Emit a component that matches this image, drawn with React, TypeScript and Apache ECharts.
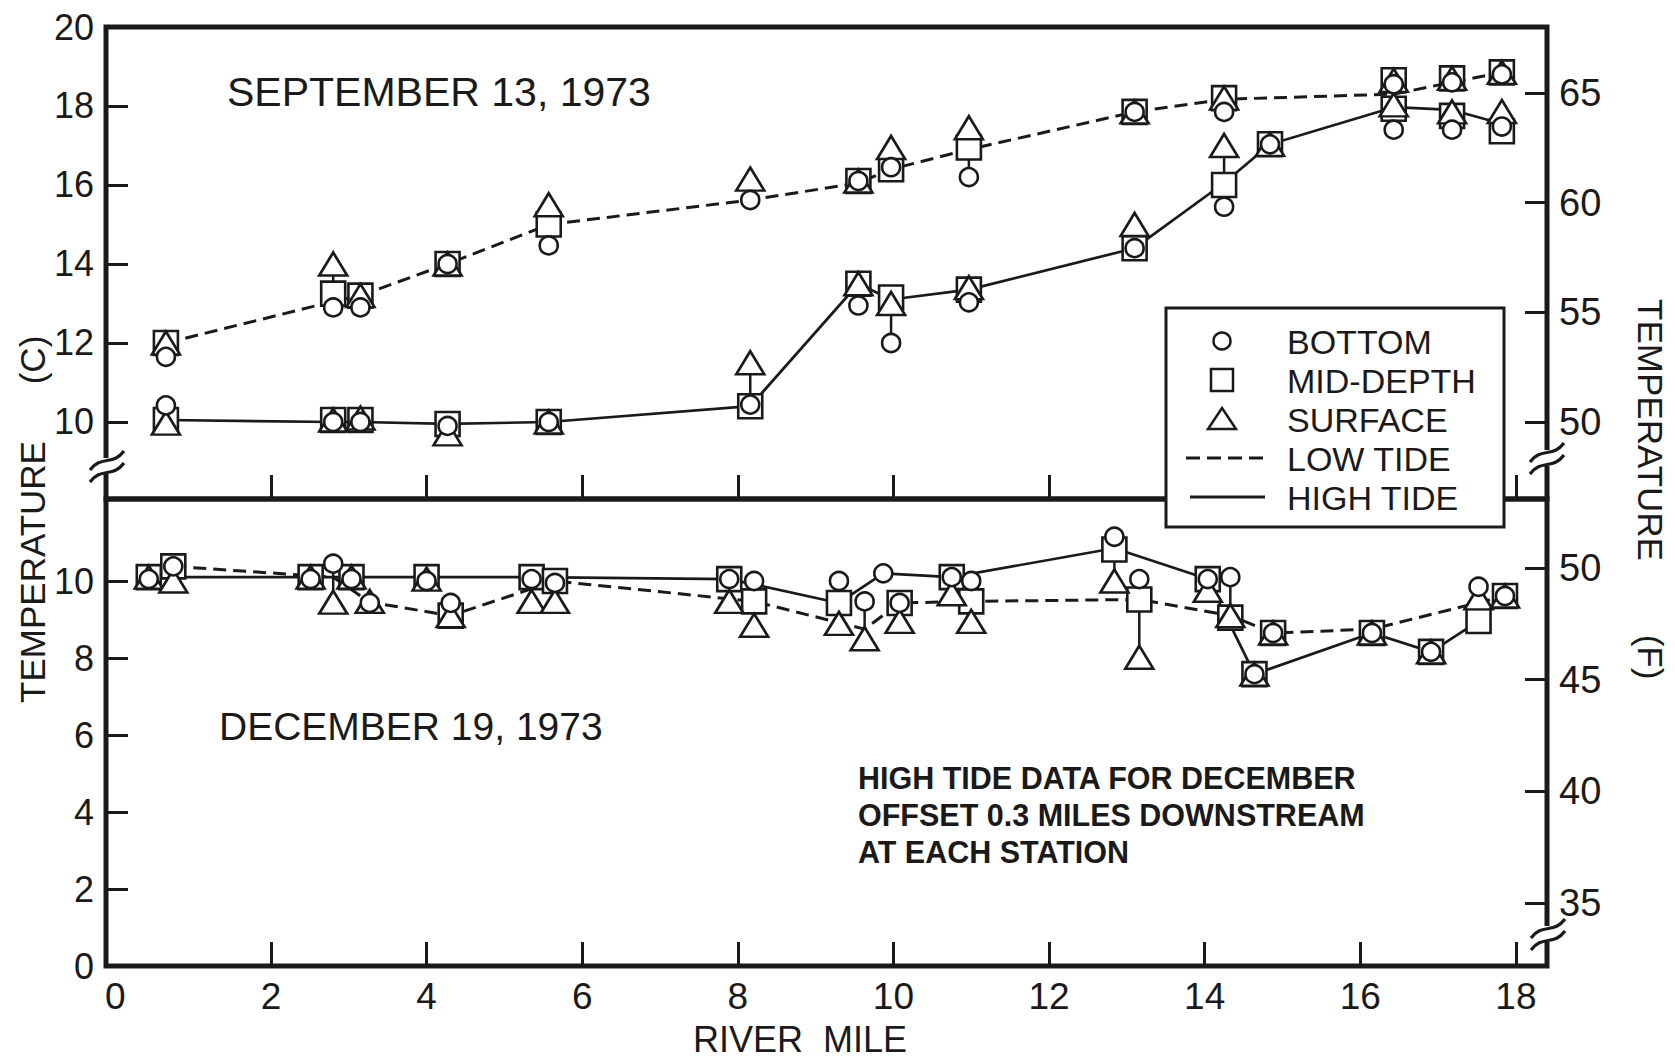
import React, { useEffect, useRef } from "react";
import * as echarts from "echarts";

const INK = "#1a1a1a";
const FONT = "'Liberation Sans', Arial, Helvetica, sans-serif";

// ---------- axis values ----------
const riverMileRange = [-0.12, 18.4];
const xTickValues = [2, 4, 6, 8, 10, 12, 14, 16, 18];
const xLabelValues = [0, 2, 4, 6, 8, 10, 12, 14, 16, 18];

const sepCelsiusRange = [8.05, 20];
const sepCelsiusLabels = [10, 12, 14, 16, 18, 20];
const sepCelsiusTicks = [10, 12, 14, 16, 18];
const sepFahrenheitRange = [46.49, 68];
const sepFahrenheitLabels = [50, 55, 60, 65];

const decCelsiusRange = [0, 12.13];
const decCelsiusLabels = [0, 2, 4, 6, 8, 10];
const decCelsiusTicks = [2, 4, 6, 8, 10];
const decFahrenheitRange = [32.18, 53.09];
const decFahrenheitLabels = [35, 40, 45, 50];

// ---------- September 13, 1973 (low-tide clusters, then high-tide clusters) ----------
const sepStationMile = [
  0.65, 2.8, 3.15, 4.27, 5.57, 8.16, 9.55, 9.97, 10.97, 13.1, 14.25, 16.43, 17.18, 17.82,
  0.65, 2.8, 3.15, 4.27, 5.57, 8.16, 9.55, 9.97, 10.97, 13.1, 14.25, 14.84, 16.43, 17.18, 17.82,
];
const sepBottom = [
  11.65, 12.9, 12.9, 14.0, 14.47, 15.62, 16.1, 16.45, 16.2, 17.85, 17.85, 18.55, 18.6, 18.8,
  10.42, 10.0, 10.0, 9.9, 10.0, 10.44, 12.95, 12.0, 13.03, 14.4, 15.45, 17.03, 17.4, 17.4, 17.48,
];
const sepMid = [
  12.0, 13.25, 13.2, 14.0, 15.0, null, 16.1, 16.4, 16.95, 17.85, 18.2, 18.65, 18.7, 18.85,
  10.05, 10.05, 10.05, 9.95, 10.0, 10.4, 13.5, 13.15, 13.35, 14.4, 16.0, 17.03, 17.93, 17.75, 17.36,
];
const sepSurface = [
  12.0, 14.0, 13.2, 14.0, 15.5, 16.15, 16.1, 16.95, 17.45, 17.85, 18.2, 18.65, 18.7, 18.85,
  9.97, 10.05, 10.1, 9.7, 10.0, 11.5, 13.5, 13.0, 13.4, 15.0, 17.0, 17.03, 18.03, 17.85, 17.86,
];
const sepLowTide = [
  [0.65, 12.0], [2.8, 13.05], [3.15, 13.2], [4.27, 14.0], [5.57, 15.0], [8.16, 15.62],
  [9.55, 16.05], [9.97, 16.4], [10.97, 16.9], [13.1, 17.85], [14.25, 18.17], [16.43, 18.3],
  [17.18, 18.6], [17.82, 18.85],
];
const sepHighTide = [
  [0.65, 10.05], [2.8, 10.0], [3.15, 10.0], [4.27, 9.95], [5.57, 10.0], [8.16, 10.4],
  [9.55, 13.5], [9.97, 13.1], [10.97, 13.35], [13.1, 14.4], [14.25, 16.05], [14.84, 17.03],
  [16.43, 17.97], [17.18, 17.9], [17.82, 17.55],
];

// ---------- December 19, 1973 ----------
const decStationMile = [
  0.43, 0.745, 2.51, 2.8, 3.035, 3.27, 4.0, 4.31, 5.35, 5.65, 7.89, 8.21, 9.3, 9.63,
  9.87, 10.08, 10.75, 11.0, 12.84, 13.16, 14.04, 14.33, 14.64, 14.88, 16.15, 16.91, 17.52, 17.86,
];
const decBottom = [
  10.05, 10.38, 10.05, 10.45, 10.05, 9.43, 10.0, 9.43, 10.05, 9.95, 10.05, 10.0, 10.0, 9.47,
  10.2, 9.43, 10.1, 10.0, 11.15, 10.05, 10.05, 10.1, 7.58, 8.65, 8.65, 8.16, 9.85, 9.61,
];
const decMid = [
  10.1, 10.38, 10.1, null, 10.1, null, 10.1, 9.1, 10.1, 10.0, 10.05, 9.47, 9.43, null,
  null, 9.43, 10.1, 9.47, 10.82, 9.52, 10.05, 9.05, 7.58, 8.65, 8.65, 8.16, 8.96, 9.61,
];
const decSurface = [
  10.1, 10.0, 10.1, 9.45, 10.1, 9.47, 10.05, 9.1, 9.47, 9.47, 9.47, 8.85, 8.9, 8.5,
  null, 8.95, 9.67, 8.95, 10.0, 8.02, 9.76, 9.1, 7.58, 8.65, 8.65, 8.16, 9.56, 9.61,
];
const decLowTide = [
  [0.745, 10.38], [2.8, 10.1], [3.27, 9.45], [4.31, 9.1], [5.65, 10.0], [8.21, 9.47],
  [9.63, 8.75], [10.08, 9.43], [11.0, 9.47], [13.16, 9.52], [14.33, 9.1], [14.88, 8.65],
  [16.15, 8.75], [17.86, 9.61],
];
const decHighTide = [
  [0.43, 10.1], [2.51, 10.1], [3.035, 10.1], [4.0, 10.1], [5.35, 10.1], [7.89, 10.05],
  [9.3, 9.43], [9.87, 10.2], [10.75, 10.1], [12.84, 10.85], [14.04, 10.05], [14.64, 7.58],
  [16.15, 8.65], [16.91, 8.16], [17.52, 8.96],
];

// ---------- texts ----------
const legendLabels = ["BOTTOM", "MID-DEPTH", "SURFACE", "LOW TIDE", "HIGH TIDE"];
const noteLines = [
  "HIGH TIDE DATA FOR DECEMBER",
  "OFFSET 0.3 MILES DOWNSTREAM",
  "AT EACH STATION",
];

const markerStyle = { color: "#ffffff", borderColor: INK, borderWidth: 2.6, opacity: 1 };

function renderStem(_params: any, api: any) {
  const x = api.value(0);
  const a = api.coord([x, api.value(1)]);
  const b = api.coord([x, api.value(2)]);
  return {
    type: "line",
    shape: { x1: a[0], y1: a[1], x2: b[0], y2: b[1] },
    style: { stroke: INK, lineWidth: 2.5 },
  };
}

function buildPanelSeries(
  xi: number,
  yi: number,
  mile: number[],
  bottom: (number | null)[],
  mid: (number | null)[],
  surface: (number | null)[],
  low: number[][],
  high: number[][]
) {
  const pts = (vals: (number | null)[]) =>
    mile.map((x, k) => [x, vals[k]]).filter((d) => d[1] !== null && d[1] !== undefined);
  const stems = mile
    .map((x, k) => {
      const v = [bottom[k], mid[k], surface[k]].filter((u) => u !== null) as number[];
      return [x, Math.min(...v), Math.max(...v)];
    })
    .filter((d) => d[2] - d[1] > 0.01);
  const base = { xAxisIndex: xi, yAxisIndex: yi, silent: true, animation: false };
  return [
    {
      ...base,
      type: "line",
      data: low,
      symbol: "none",
      showSymbol: false,
      lineStyle: { color: INK, width: 3, type: [13, 7], opacity: 1 },
      z: 2,
    },
    {
      ...base,
      type: "line",
      data: high,
      symbol: "none",
      showSymbol: false,
      lineStyle: { color: INK, width: 2.7, type: "solid", opacity: 1 },
      z: 2,
    },
    {
      ...base,
      type: "custom",
      coordinateSystem: "cartesian2d",
      data: stems,
      encode: { x: 0, y: [1, 2] },
      renderItem: renderStem,
      z: 3,
    },
    { ...base, type: "scatter", data: pts(mid), symbol: "rect", symbolSize: 24, itemStyle: markerStyle, z: 4 },
    { ...base, type: "scatter", data: pts(surface), symbol: "triangle", symbolSize: [28, 23], itemStyle: markerStyle, z: 5 },
    { ...base, type: "scatter", data: pts(bottom), symbol: "circle", symbolSize: 18, itemStyle: markerStyle, z: 6 },
  ];
}

function yAxisDef(grid: number, range: number[], labels: number[], ticks: number[], pos: string, size: number) {
  return {
    type: "value",
    gridIndex: grid,
    position: pos,
    min: range[0],
    max: range[1],
    axisLine: { show: false, onZero: false },
    splitLine: { show: false },
    axisTick: {
      show: true,
      inside: true,
      length: 22,
      customValues: ticks,
      lineStyle: { color: INK, width: 3 },
    },
    axisLabel: {
      show: true,
      customValues: labels,
      margin: 12,
      color: INK,
      fontSize: size,
      fontFamily: FONT,
    },
  };
}

function breakMark(ax: number, yc: number) {
  const els: any[] = [
    { type: "rect", shape: { x: ax - 8, y: yc - 9, width: 16, height: 16 }, style: { fill: "#ffffff" }, z: 100 },
  ];
  [-6, 6].forEach((dy) => {
    els.push({
      type: "bezierCurve",
      shape: {
        x1: ax - 17, y1: yc + dy + 9,
        cpx1: ax - 6, cpy1: yc + dy - 6,
        cpx2: ax + 6, cpy2: yc + dy + 5,
        x2: ax + 17, y2: yc + dy - 10,
      },
      style: { stroke: INK, lineWidth: 3.2, fill: "none" },
      z: 101,
    });
  });
  return els;
}

function txt(x: number, y: number, text: string, size: number, extra: any = {}) {
  return {
    type: "text",
    x,
    y,
    rotation: extra.rotation || 0,
    z: 120,
    style: {
      text,
      fill: INK,
      fontSize: size,
      fontFamily: FONT,
      fontWeight: extra.weight || "normal",
      align: extra.align || "left",
      textAlign: extra.align || "left",
      verticalAlign: "middle",
      textVerticalAlign: "middle",
    },
  };
}

export default function App() {
  const ref = useRef<HTMLDivElement>(null);

  useEffect(() => {
    document.body.style.margin = "0";
    document.body.style.background = "#ffffff";
    if (!ref.current) return;
    const chart = echarts.init(ref.current, undefined, { renderer: "svg" });

    const legendX = 1166, legendY = 308, legendW = 338, legendH = 219;
    const rowY = [341, 380, 419, 458, 497];
    const symX = 1222;

    const legend: any[] = [
      {
        type: "rect",
        shape: { x: legendX, y: legendY, width: legendW, height: legendH },
        style: { fill: "#ffffff", stroke: INK, lineWidth: 3 },
        z: 110,
      },
      { type: "circle", shape: { cx: symX, cy: rowY[0], r: 8.5 }, style: { fill: "#fff", stroke: INK, lineWidth: 2.5 }, z: 111 },
      { type: "rect", shape: { x: symX - 11, y: rowY[1] - 11, width: 22, height: 22 }, style: { fill: "#fff", stroke: INK, lineWidth: 2.5 }, z: 111 },
      {
        type: "polygon",
        shape: { points: [[symX, rowY[2] - 11], [symX + 14, rowY[2] + 10], [symX - 14, rowY[2] + 10]] },
        style: { fill: "#fff", stroke: INK, lineWidth: 2.5 },
        z: 111,
      },
      {
        type: "line",
        shape: { x1: 1186, y1: rowY[3], x2: 1267, y2: rowY[3] },
        style: { stroke: INK, lineWidth: 3, lineDash: [14, 7] },
        z: 111,
      },
      {
        type: "line",
        shape: { x1: 1190, y1: rowY[4], x2: 1265, y2: rowY[4] },
        style: { stroke: INK, lineWidth: 3 },
        z: 111,
      },
      ...legendLabels.map((t, i) => txt(1287, rowY[i] + 1, t, 34)),
    ];

    const texts: any[] = [
      txt(227, 92, "SEPTEMBER 13, 1973", 41),
      txt(219, 726, "DECEMBER 19, 1973", 39),
      ...noteLines.map((t, i) => txt(858, 778 + i * 37, t, 30.5, { weight: "bold" })),
      txt(800, 1039, "RIVER\u00a0\u00a0MILE", 36, { align: "center" }),
      txt(32, 572, "TEMPERATURE", 35, { align: "center", rotation: Math.PI / 2 }),
      txt(32, 360, "(C)", 35, { align: "center", rotation: Math.PI / 2 }),
      txt(1650, 430, "TEMPERATURE", 35, { align: "center", rotation: -Math.PI / 2 }),
      txt(1650, 657, "(F)", 35, { align: "center", rotation: -Math.PI / 2 }),
    ];

    const option: any = {
      animation: false,
      backgroundColor: "#ffffff",
      grid: [
        { left: 106, top: 27, width: 1441, height: 472, show: true, borderColor: INK, borderWidth: 5, backgroundColor: "transparent" },
        { left: 106, top: 499, width: 1441, height: 467, show: true, borderColor: INK, borderWidth: 5, backgroundColor: "transparent" },
      ],
      xAxis: [
        {
          type: "value",
          gridIndex: 0,
          position: "bottom",
          min: riverMileRange[0],
          max: riverMileRange[1],
          axisLine: { show: false, onZero: false },
          splitLine: { show: false },
          axisTick: { show: true, inside: true, length: 24, customValues: xTickValues, lineStyle: { color: INK, width: 3 } },
          axisLabel: { show: false },
        },
        {
          type: "value",
          gridIndex: 1,
          position: "bottom",
          min: riverMileRange[0],
          max: riverMileRange[1],
          axisLine: { show: false, onZero: false },
          splitLine: { show: false },
          axisTick: { show: true, inside: true, length: 24, customValues: xTickValues, lineStyle: { color: INK, width: 3 } },
          axisLabel: { show: true, customValues: xLabelValues, margin: 12, color: INK, fontSize: 37, fontFamily: FONT },
        },
      ],
      yAxis: [
        yAxisDef(0, sepCelsiusRange, sepCelsiusLabels, sepCelsiusTicks, "left", 36),
        yAxisDef(0, sepFahrenheitRange, sepFahrenheitLabels, sepFahrenheitLabels, "right", 38),
        yAxisDef(1, decCelsiusRange, decCelsiusLabels, decCelsiusTicks, "left", 36),
        yAxisDef(1, decFahrenheitRange, decFahrenheitLabels, decFahrenheitLabels, "right", 38),
      ],
      series: [
        ...buildPanelSeries(0, 0, sepStationMile, sepBottom, sepMid, sepSurface, sepLowTide, sepHighTide),
        ...buildPanelSeries(1, 2, decStationMile, decBottom, decMid, decSurface, decLowTide, decHighTide),
      ],
      graphic: [
        ...breakMark(107, 467),
        ...breakMark(1547, 459),
        ...breakMark(1548, 935),
        ...legend,
        ...texts,
      ],
    };

    chart.setOption(option);
    return () => {
      chart.dispose();
    };
  }, []);

  return (
    <div
      ref={ref}
      style={{ position: "absolute", left: 0, top: 0, width: "1675px", height: "1061px", background: "#fff" }}
    />
  );
}
